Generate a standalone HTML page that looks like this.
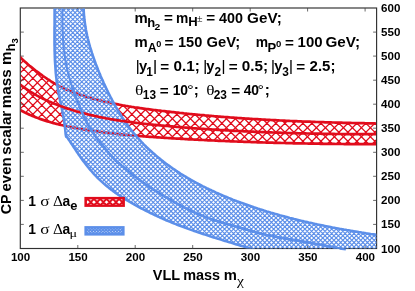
<!DOCTYPE html>
<html><head><meta charset="utf-8"><title>plot</title>
<style>
html,body{margin:0;padding:0;background:#fff;}
svg{display:block;will-change:transform;}
text{font-family:"Liberation Sans",sans-serif;font-weight:bold;fill:#000;}
.g{font-family:"Liberation Serif",serif;font-weight:normal;}
.n{font-weight:normal;}
</style></head><body>
<svg width="415" height="291" viewBox="0 0 415 291">
<defs>
<clipPath id="cr"><path d="M19.0,56.2 L20.5,57.6 L22.0,59.0 L23.5,60.4 L25.0,61.8 L26.5,63.1 L28.0,64.4 L29.5,65.7 L31.0,66.9 L32.5,68.1 L34.0,69.3 L35.5,70.5 L37.0,71.6 L38.5,72.7 L40.0,73.8 L41.5,74.9 L43.0,76.0 L44.5,77.0 L46.0,78.0 L47.5,79.1 L49.0,80.0 L50.5,81.0 L52.0,82.0 L53.5,82.9 L55.0,83.7 L56.5,84.6 L58.0,85.4 L59.5,86.2 L61.0,87.0 L62.5,87.7 L64.0,88.4 L65.5,89.1 L67.0,89.7 L68.5,90.3 L70.0,91.0 L71.5,91.6 L73.0,92.1 L74.5,92.7 L76.0,93.2 L77.5,93.8 L79.0,94.3 L80.5,94.8 L82.0,95.3 L83.5,95.7 L85.0,96.2 L86.5,96.7 L88.0,97.1 L89.5,97.6 L91.0,98.0 L92.5,98.4 L94.0,98.9 L95.5,99.3 L97.0,99.7 L98.5,100.1 L100.0,100.4 L101.5,100.8 L103.0,101.2 L104.5,101.5 L106.0,101.9 L107.5,102.2 L109.0,102.6 L110.5,102.9 L112.0,103.2 L113.5,103.5 L115.0,103.8 L116.5,104.1 L118.0,104.4 L119.5,104.7 L121.0,105.0 L122.5,105.3 L124.0,105.5 L125.5,105.8 L127.0,106.0 L128.5,106.3 L130.0,106.5 L131.5,106.8 L133.0,107.0 L134.5,107.3 L136.0,107.5 L137.5,107.7 L139.0,107.9 L140.5,108.2 L142.0,108.4 L143.5,108.6 L145.0,108.8 L146.5,109.0 L148.0,109.2 L149.5,109.4 L151.0,109.6 L152.5,109.8 L154.0,110.0 L155.5,110.1 L157.0,110.3 L158.5,110.5 L160.0,110.7 L161.5,110.9 L163.0,111.0 L164.5,111.2 L166.0,111.4 L167.5,111.6 L169.0,111.7 L170.5,111.9 L172.0,112.1 L173.5,112.2 L175.0,112.4 L176.5,112.6 L178.0,112.7 L179.5,112.9 L181.0,113.0 L182.5,113.2 L184.0,113.4 L185.5,113.5 L187.0,113.7 L188.5,113.8 L190.0,114.0 L191.5,114.1 L193.0,114.3 L194.5,114.4 L196.0,114.5 L197.5,114.7 L199.0,114.8 L200.5,115.0 L202.0,115.1 L203.5,115.2 L205.0,115.4 L206.5,115.5 L208.0,115.6 L209.5,115.8 L211.0,115.9 L212.5,116.0 L214.0,116.2 L215.5,116.3 L217.0,116.4 L218.5,116.5 L220.0,116.6 L221.5,116.8 L223.0,116.9 L224.5,117.0 L226.0,117.1 L227.5,117.2 L229.0,117.3 L230.5,117.5 L232.0,117.6 L233.5,117.7 L235.0,117.8 L236.5,117.9 L238.0,118.0 L239.5,118.1 L241.0,118.2 L242.5,118.3 L244.0,118.4 L245.5,118.5 L247.0,118.6 L248.5,118.7 L250.0,118.8 L251.5,118.9 L253.0,119.0 L254.5,119.1 L256.0,119.2 L257.5,119.2 L259.0,119.3 L260.5,119.4 L262.0,119.5 L263.5,119.6 L265.0,119.7 L266.5,119.8 L268.0,119.8 L269.5,119.9 L271.0,120.0 L272.5,120.1 L274.0,120.2 L275.5,120.2 L277.0,120.3 L278.5,120.4 L280.0,120.5 L281.5,120.5 L283.0,120.6 L284.5,120.7 L286.0,120.8 L287.5,120.8 L289.0,120.9 L290.5,121.0 L292.0,121.0 L293.5,121.1 L295.0,121.2 L296.5,121.2 L298.0,121.3 L299.5,121.3 L301.0,121.4 L302.5,121.5 L304.0,121.5 L305.5,121.6 L307.0,121.6 L308.5,121.7 L310.0,121.7 L311.5,121.8 L313.0,121.9 L314.5,121.9 L316.0,122.0 L317.5,122.0 L319.0,122.1 L320.5,122.1 L322.0,122.2 L323.5,122.2 L325.0,122.3 L326.5,122.3 L328.0,122.3 L329.5,122.4 L331.0,122.4 L332.5,122.5 L334.0,122.5 L335.5,122.6 L337.0,122.6 L338.5,122.6 L340.0,122.7 L341.5,122.7 L343.0,122.8 L344.5,122.8 L346.0,122.8 L347.5,122.9 L349.0,122.9 L350.5,122.9 L352.0,123.0 L353.5,123.0 L355.0,123.1 L356.5,123.1 L358.0,123.1 L359.5,123.1 L361.0,123.2 L362.5,123.2 L364.0,123.2 L365.5,123.3 L367.0,123.3 L368.5,123.3 L370.0,123.4 L371.5,123.4 L373.0,123.4 L374.5,123.4 L376.0,123.5 L376.0,144.2 L374.5,144.2 L373.0,144.2 L371.5,144.2 L370.0,144.2 L368.5,144.2 L367.0,144.2 L365.5,144.2 L364.0,144.2 L362.5,144.2 L361.0,144.2 L359.5,144.2 L358.0,144.2 L356.5,144.1 L355.0,144.1 L353.5,144.1 L352.0,144.1 L350.5,144.1 L349.0,144.1 L347.5,144.1 L346.0,144.1 L344.5,144.1 L343.0,144.0 L341.5,144.0 L340.0,144.0 L338.5,144.0 L337.0,144.0 L335.5,144.0 L334.0,143.9 L332.5,143.9 L331.0,143.9 L329.5,143.9 L328.0,143.9 L326.5,143.8 L325.0,143.8 L323.5,143.8 L322.0,143.8 L320.5,143.8 L319.0,143.7 L317.5,143.7 L316.0,143.7 L314.5,143.7 L313.0,143.6 L311.5,143.6 L310.0,143.6 L308.5,143.6 L307.0,143.5 L305.5,143.5 L304.0,143.5 L302.5,143.4 L301.0,143.4 L299.5,143.4 L298.0,143.4 L296.5,143.3 L295.0,143.3 L293.5,143.3 L292.0,143.2 L290.5,143.2 L289.0,143.2 L287.5,143.1 L286.0,143.1 L284.5,143.0 L283.0,143.0 L281.5,143.0 L280.0,142.9 L278.5,142.9 L277.0,142.9 L275.5,142.8 L274.0,142.8 L272.5,142.7 L271.0,142.7 L269.5,142.6 L268.0,142.6 L266.5,142.6 L265.0,142.5 L263.5,142.5 L262.0,142.4 L260.5,142.4 L259.0,142.3 L257.5,142.3 L256.0,142.2 L254.5,142.2 L253.0,142.1 L251.5,142.1 L250.0,142.0 L248.5,142.0 L247.0,141.9 L245.5,141.9 L244.0,141.8 L242.5,141.7 L241.0,141.7 L239.5,141.6 L238.0,141.6 L236.5,141.5 L235.0,141.5 L233.5,141.4 L232.0,141.3 L230.5,141.3 L229.0,141.2 L227.5,141.1 L226.0,141.1 L224.5,141.0 L223.0,141.0 L221.5,140.9 L220.0,140.8 L218.5,140.8 L217.0,140.7 L215.5,140.6 L214.0,140.5 L212.5,140.5 L211.0,140.4 L209.5,140.3 L208.0,140.3 L206.5,140.2 L205.0,140.1 L203.5,140.0 L202.0,140.0 L200.5,139.9 L199.0,139.8 L197.5,139.7 L196.0,139.7 L194.5,139.6 L193.0,139.5 L191.5,139.4 L190.0,139.3 L188.5,139.3 L187.0,139.2 L185.5,139.1 L184.0,139.0 L182.5,138.9 L181.0,138.8 L179.5,138.7 L178.0,138.7 L176.5,138.6 L175.0,138.5 L173.5,138.4 L172.0,138.3 L170.5,138.2 L169.0,138.1 L167.5,138.0 L166.0,137.9 L164.5,137.8 L163.0,137.7 L161.5,137.6 L160.0,137.5 L158.5,137.4 L157.0,137.3 L155.5,137.2 L154.0,137.1 L152.5,137.0 L151.0,136.9 L149.5,136.8 L148.0,136.7 L146.5,136.6 L145.0,136.5 L143.5,136.3 L142.0,136.2 L140.5,136.1 L139.0,136.0 L137.5,135.8 L136.0,135.7 L134.5,135.6 L133.0,135.5 L131.5,135.3 L130.0,135.2 L128.5,135.0 L127.0,134.9 L125.5,134.8 L124.0,134.6 L122.5,134.5 L121.0,134.3 L119.5,134.2 L118.0,134.0 L116.5,133.8 L115.0,133.7 L113.5,133.5 L112.0,133.3 L110.5,133.1 L109.0,133.0 L107.5,132.8 L106.0,132.6 L104.5,132.4 L103.0,132.2 L101.5,132.0 L100.0,131.8 L98.5,131.6 L97.0,131.4 L95.5,131.2 L94.0,131.0 L92.5,130.8 L91.0,130.5 L89.5,130.3 L88.0,130.1 L86.5,129.8 L85.0,129.6 L83.5,129.3 L82.0,129.1 L80.5,128.8 L79.0,128.6 L77.5,128.3 L76.0,128.0 L74.5,127.7 L73.0,127.5 L71.5,127.2 L70.0,126.9 L68.5,126.6 L67.0,126.3 L65.5,126.0 L64.0,125.6 L62.5,125.3 L61.0,125.0 L59.5,124.6 L58.0,124.2 L56.5,123.9 L55.0,123.5 L53.5,123.1 L52.0,122.7 L50.5,122.3 L49.0,121.8 L47.5,121.4 L46.0,120.9 L44.5,120.4 L43.0,119.9 L41.5,119.4 L40.0,118.9 L38.5,118.3 L37.0,117.8 L35.5,117.2 L34.0,116.6 L32.5,116.0 L31.0,115.3 L29.5,114.7 L28.0,114.0 L26.5,113.3 L25.0,112.6 L23.5,111.8 L22.0,111.0 L20.5,110.2 L19.0,109.4Z"/></clipPath>
<clipPath id="cb"><path d="M54.6,5.9 L54.6,7.4 L54.6,9.0 L54.6,10.5 L54.6,12.0 L54.6,13.5 L54.6,15.0 L54.6,16.5 L54.6,18.0 L54.6,19.5 L54.6,21.0 L54.6,22.5 L54.6,24.0 L54.6,25.5 L54.5,27.0 L54.5,28.5 L54.5,30.0 L54.5,31.5 L54.5,33.0 L54.5,34.5 L54.5,36.0 L54.5,37.5 L54.5,39.0 L54.5,40.4 L54.5,41.9 L54.5,43.4 L54.5,44.9 L54.6,46.4 L54.6,47.9 L54.6,49.4 L54.6,50.9 L54.7,52.4 L54.7,53.9 L54.8,55.3 L54.8,56.8 L54.9,58.3 L54.9,59.8 L55.0,61.3 L55.1,62.8 L55.2,64.3 L55.3,65.7 L55.4,67.2 L55.5,68.7 L55.6,70.2 L55.7,71.7 L55.8,73.2 L56.0,74.6 L56.1,76.1 L56.3,77.6 L56.5,79.1 L56.6,80.6 L56.8,82.0 L57.0,83.5 L57.2,85.0 L57.5,86.5 L57.7,88.0 L57.9,89.4 L58.2,90.9 L58.5,92.4 L58.7,93.9 L59.0,95.3 L59.3,96.8 L59.6,98.3 L59.9,99.8 L60.2,101.2 L60.5,102.7 L60.8,104.2 L61.2,105.7 L61.5,107.1 L61.8,108.6 L62.1,110.1 L62.4,111.6 L62.7,113.0 L62.9,114.5 L63.2,116.0 L63.5,117.4 L63.7,118.9 L64.0,120.4 L64.2,121.9 L64.4,123.3 L64.6,124.8 L64.8,126.3 L65.0,127.7 L65.2,129.2 L65.3,130.7 L65.5,132.1 L65.6,133.6 L65.8,135.1 L66.1,136.6 L67.3,137.5 L68.2,138.7 L69.0,140.0 L69.9,141.2 L70.7,142.5 L71.5,143.7 L72.4,145.0 L73.2,146.2 L74.0,147.5 L74.9,148.8 L75.7,150.0 L76.5,151.2 L77.3,152.5 L78.2,153.7 L79.0,155.0 L79.9,156.2 L80.7,157.4 L81.6,158.6 L82.5,159.9 L83.4,161.1 L84.3,162.3 L85.2,163.5 L86.1,164.6 L87.0,165.8 L87.9,167.0 L88.9,168.1 L89.9,169.3 L90.8,170.4 L91.8,171.5 L92.8,172.7 L93.8,173.8 L94.8,174.8 L95.8,175.9 L96.8,177.0 L97.9,178.1 L98.9,179.1 L100.0,180.1 L101.1,181.1 L102.2,182.1 L103.3,183.1 L104.4,184.1 L105.5,185.1 L106.6,186.0 L107.8,186.9 L108.9,187.9 L110.1,188.8 L111.2,189.7 L112.4,190.5 L113.6,191.4 L114.8,192.3 L116.0,193.1 L117.2,194.0 L118.4,194.8 L119.7,195.6 L120.9,196.4 L122.1,197.2 L123.4,198.0 L124.7,198.8 L125.9,199.6 L127.2,200.4 L128.5,201.1 L129.8,201.9 L131.1,202.6 L132.4,203.4 L133.7,204.1 L135.0,204.9 L136.3,205.6 L137.6,206.3 L138.9,207.0 L140.3,207.8 L141.6,208.5 L142.9,209.2 L144.3,209.9 L145.6,210.6 L147.0,211.2 L148.3,211.9 L149.7,212.6 L151.0,213.3 L152.4,213.9 L153.8,214.6 L155.1,215.2 L156.5,215.9 L157.9,216.5 L159.3,217.1 L160.6,217.8 L162.0,218.4 L163.4,219.0 L164.8,219.6 L166.1,220.2 L167.5,220.8 L168.9,221.3 L170.3,221.9 L171.7,222.5 L173.0,223.0 L174.4,223.6 L175.8,224.1 L177.2,224.7 L178.6,225.2 L180.0,225.8 L181.4,226.3 L182.8,226.8 L184.2,227.3 L185.5,227.9 L186.9,228.4 L188.3,228.9 L189.7,229.4 L191.1,229.9 L192.5,230.4 L193.9,230.9 L195.3,231.3 L196.7,231.8 L198.1,232.3 L199.5,232.8 L201.0,233.2 L202.4,233.7 L203.8,234.2 L205.2,234.6 L206.6,235.1 L208.0,235.6 L209.4,236.0 L210.8,236.5 L212.2,236.9 L213.7,237.4 L215.1,237.8 L216.5,238.3 L217.9,238.7 L219.3,239.1 L220.8,239.6 L222.2,240.0 L223.6,240.5 L225.0,240.9 L226.5,241.3 L227.9,241.8 L229.3,242.2 L230.7,242.6 L232.2,243.1 L233.6,243.5 L235.0,243.9 L236.5,244.4 L237.9,244.8 L239.3,245.2 L240.8,245.7 L242.2,246.1 L243.7,246.5 L245.1,247.0 L246.5,247.4 L248.0,247.8 L249.4,248.3 L250.9,248.7 L252.3,249.2 L253.8,249.6 L255.2,250.1 L256.7,250.5 L378.0,250.0 L378.0,235.1 L376.5,234.9 L375.1,234.6 L373.6,234.4 L372.1,234.2 L370.6,234.0 L369.1,233.7 L367.6,233.5 L366.1,233.3 L364.6,233.0 L363.2,232.8 L361.7,232.6 L360.2,232.3 L358.7,232.1 L357.2,231.8 L355.7,231.6 L354.3,231.4 L352.8,231.1 L351.3,230.9 L349.8,230.6 L348.3,230.3 L346.8,230.1 L345.4,229.8 L343.9,229.6 L342.4,229.3 L340.9,229.0 L339.5,228.8 L338.0,228.5 L336.5,228.2 L335.0,227.9 L333.6,227.7 L332.1,227.4 L330.6,227.1 L329.1,226.8 L327.7,226.5 L326.2,226.2 L324.7,225.9 L323.3,225.6 L321.8,225.3 L320.3,225.0 L318.9,224.7 L317.4,224.4 L315.9,224.1 L314.5,223.8 L313.0,223.4 L311.6,223.1 L310.1,222.8 L308.6,222.5 L307.2,222.1 L305.7,221.8 L304.3,221.5 L302.8,221.1 L301.3,220.8 L299.9,220.4 L298.4,220.1 L297.0,219.7 L295.5,219.3 L294.1,219.0 L292.6,218.6 L291.2,218.2 L289.7,217.9 L288.3,217.5 L286.8,217.1 L285.4,216.7 L284.0,216.3 L282.5,215.9 L281.1,215.6 L279.6,215.2 L278.2,214.7 L276.8,214.3 L275.3,213.9 L273.9,213.5 L272.4,213.1 L271.0,212.7 L269.6,212.2 L268.1,211.8 L266.7,211.4 L265.3,210.9 L263.9,210.5 L262.4,210.0 L261.0,209.6 L259.6,209.1 L258.2,208.7 L256.7,208.2 L255.3,207.7 L253.9,207.3 L252.5,206.8 L251.0,206.3 L249.6,205.8 L248.2,205.3 L246.8,204.8 L245.4,204.3 L244.0,203.8 L242.6,203.3 L241.2,202.8 L239.7,202.2 L238.3,201.7 L236.9,201.2 L235.5,200.6 L234.1,200.1 L232.7,199.6 L231.3,199.0 L229.9,198.4 L228.5,197.9 L227.1,197.3 L225.8,196.7 L224.4,196.2 L223.0,195.6 L221.6,195.0 L220.2,194.4 L218.8,193.8 L217.5,193.2 L216.1,192.6 L214.7,191.9 L213.4,191.3 L212.0,190.7 L210.6,190.0 L209.3,189.4 L207.9,188.7 L206.6,188.1 L205.2,187.4 L203.9,186.8 L202.5,186.1 L201.2,185.4 L199.9,184.7 L198.5,184.0 L197.2,183.3 L195.9,182.6 L194.6,181.9 L193.2,181.1 L191.9,180.4 L190.6,179.7 L189.3,178.9 L188.0,178.2 L186.7,177.4 L185.5,176.6 L184.2,175.9 L182.9,175.1 L181.6,174.3 L180.3,173.5 L179.1,172.7 L177.8,171.9 L176.6,171.0 L175.3,170.2 L174.1,169.4 L172.8,168.5 L171.6,167.7 L170.4,166.8 L169.2,165.9 L168.0,165.0 L166.7,164.2 L165.5,163.3 L164.3,162.4 L163.2,161.4 L162.0,160.5 L160.8,159.6 L159.6,158.6 L158.5,157.7 L157.3,156.7 L156.1,155.8 L155.0,154.8 L153.9,153.8 L152.7,152.8 L151.6,151.8 L150.5,150.8 L149.4,149.8 L148.3,148.7 L147.2,147.7 L146.1,146.7 L145.1,145.6 L144.0,144.6 L143.0,143.5 L141.9,142.4 L140.9,141.3 L139.9,140.2 L138.9,139.1 L137.9,138.0 L136.9,136.9 L136.0,135.8 L135.0,134.6 L134.0,133.5 L133.1,132.4 L132.2,131.2 L131.2,130.0 L130.3,128.9 L129.4,127.7 L128.5,126.5 L127.7,125.3 L126.8,124.1 L125.9,122.9 L125.1,121.7 L124.3,120.5 L123.4,119.2 L122.6,118.0 L121.8,116.7 L121.0,115.5 L120.2,114.2 L119.4,113.0 L118.7,111.7 L117.9,110.4 L117.1,109.2 L116.4,107.9 L115.6,106.6 L114.9,105.3 L114.2,104.0 L113.5,102.7 L112.8,101.3 L112.1,100.0 L111.4,98.7 L110.7,97.4 L110.0,96.0 L109.3,94.7 L108.6,93.4 L108.0,92.0 L107.3,90.7 L106.7,89.3 L106.0,87.9 L105.4,86.6 L104.7,85.2 L104.1,83.8 L103.5,82.5 L102.9,81.1 L102.2,79.7 L101.6,78.3 L101.0,76.9 L100.4,75.5 L99.9,74.1 L99.3,72.8 L98.7,71.4 L98.1,69.9 L97.6,68.5 L97.0,67.1 L96.5,65.7 L95.9,64.3 L95.4,62.9 L94.9,61.5 L94.4,60.1 L93.8,58.6 L93.4,57.2 L92.9,55.8 L92.4,54.3 L91.9,52.9 L91.5,51.5 L91.0,50.0 L90.6,48.6 L90.1,47.2 L89.7,45.7 L89.3,44.3 L88.9,42.8 L88.5,41.4 L88.2,39.9 L87.8,38.5 L87.5,37.0 L87.1,35.6 L86.8,34.1 L86.5,32.6 L86.2,31.2 L85.9,29.7 L85.7,28.3 L85.4,26.8 L85.2,25.3 L85.0,23.9 L84.8,22.4 L84.6,20.9 L84.4,19.5 L84.3,18.0 L84.1,16.5 L84.0,15.1 L83.9,13.6 L83.8,12.1 L83.7,10.6 L83.7,9.2 L83.7,7.7 L83.7,6.2Z"/></clipPath>
<clipPath id="clr"><rect x="85.65" y="198.15" width="38.0" height="7.5"/></clipPath>
<clipPath id="clb"><rect x="85.65" y="227.35" width="37.7" height="7.0"/></clipPath>
<clipPath id="cp"><rect x="20.7" y="8.5" width="355.7" height="240.0"/></clipPath>
</defs>
<rect width="415" height="291" fill="#fff"/>
<g clip-path="url(#cp)">
<g clip-path="url(#cr)"><path d="M18.00,-323.65L379.00,37.35M18.00,-314.65L379.00,46.35M18.00,-305.65L379.00,55.35M18.00,-296.65L379.00,64.35M18.00,-287.65L379.00,73.35M18.00,-278.65L379.00,82.35M18.00,-269.65L379.00,91.35M18.00,-260.65L379.00,100.35M18.00,-251.65L379.00,109.35M18.00,-242.65L379.00,118.35M18.00,-233.65L379.00,127.35M18.00,-224.65L379.00,136.35M18.00,-215.65L379.00,145.35M18.00,-206.65L379.00,154.35M18.00,-197.65L379.00,163.35M18.00,-188.65L379.00,172.35M18.00,-179.65L379.00,181.35M18.00,-170.65L379.00,190.35M18.00,-161.65L379.00,199.35M18.00,-152.65L379.00,208.35M18.00,-143.65L379.00,217.35M18.00,-134.65L379.00,226.35M18.00,-125.65L379.00,235.35M18.00,-116.65L379.00,244.35M18.00,-107.65L379.00,253.35M18.00,-98.65L379.00,262.35M18.00,-89.65L379.00,271.35M18.00,-80.65L379.00,280.35M18.00,-71.65L379.00,289.35M18.00,-62.65L379.00,298.35M18.00,-53.65L379.00,307.35M18.00,-44.65L379.00,316.35M18.00,-35.65L379.00,325.35M18.00,-26.65L379.00,334.35M18.00,-17.65L379.00,343.35M18.00,-8.65L379.00,352.35M18.00,0.35L379.00,361.35M18.00,9.35L379.00,370.35M18.00,18.35L379.00,379.35M18.00,27.35L379.00,388.35M18.00,36.35L379.00,397.35M18.00,45.35L379.00,406.35M18.00,54.35L379.00,415.35M18.00,63.35L379.00,424.35M18.00,72.35L379.00,433.35M18.00,81.35L379.00,442.35M18.00,90.35L379.00,451.35M18.00,99.35L379.00,460.35M18.00,108.35L379.00,469.35M18.00,117.35L379.00,478.35M18.00,126.35L379.00,487.35M18.00,135.35L379.00,496.35M18.00,144.35L379.00,505.35M18.00,153.35L379.00,514.35M18.00,162.35L379.00,523.35M18.00,39.15L379.00,-321.85M18.00,48.15L379.00,-312.85M18.00,57.15L379.00,-303.85M18.00,66.15L379.00,-294.85M18.00,75.15L379.00,-285.85M18.00,84.15L379.00,-276.85M18.00,93.15L379.00,-267.85M18.00,102.15L379.00,-258.85M18.00,111.15L379.00,-249.85M18.00,120.15L379.00,-240.85M18.00,129.15L379.00,-231.85M18.00,138.15L379.00,-222.85M18.00,147.15L379.00,-213.85M18.00,156.15L379.00,-204.85M18.00,165.15L379.00,-195.85M18.00,174.15L379.00,-186.85M18.00,183.15L379.00,-177.85M18.00,192.15L379.00,-168.85M18.00,201.15L379.00,-159.85M18.00,210.15L379.00,-150.85M18.00,219.15L379.00,-141.85M18.00,228.15L379.00,-132.85M18.00,237.15L379.00,-123.85M18.00,246.15L379.00,-114.85M18.00,255.15L379.00,-105.85M18.00,264.15L379.00,-96.85M18.00,273.15L379.00,-87.85M18.00,282.15L379.00,-78.85M18.00,291.15L379.00,-69.85M18.00,300.15L379.00,-60.85M18.00,309.15L379.00,-51.85M18.00,318.15L379.00,-42.85M18.00,327.15L379.00,-33.85M18.00,336.15L379.00,-24.85M18.00,345.15L379.00,-15.85M18.00,354.15L379.00,-6.85M18.00,363.15L379.00,2.15M18.00,372.15L379.00,11.15M18.00,381.15L379.00,20.15M18.00,390.15L379.00,29.15M18.00,399.15L379.00,38.15M18.00,408.15L379.00,47.15M18.00,417.15L379.00,56.15M18.00,426.15L379.00,65.15M18.00,435.15L379.00,74.15M18.00,444.15L379.00,83.15M18.00,453.15L379.00,92.15M18.00,462.15L379.00,101.15M18.00,471.15L379.00,110.15M18.00,480.15L379.00,119.15M18.00,489.15L379.00,128.15M18.00,498.15L379.00,137.15M18.00,507.15L379.00,146.15M18.00,516.15L379.00,155.15M18.00,525.15L379.00,164.15" stroke="#e10c1c" stroke-width="1.3" fill="none"/></g>
<path d="M54.6,5.9 L54.6,7.4 L54.6,9.0 L54.6,10.5 L54.6,12.0 L54.6,13.5 L54.6,15.0 L54.6,16.5 L54.6,18.0 L54.6,19.5 L54.6,21.0 L54.6,22.5 L54.6,24.0 L54.6,25.5 L54.5,27.0 L54.5,28.5 L54.5,30.0 L54.5,31.5 L54.5,33.0 L54.5,34.5 L54.5,36.0 L54.5,37.5 L54.5,39.0 L54.5,40.4 L54.5,41.9 L54.5,43.4 L54.5,44.9 L54.6,46.4 L54.6,47.9 L54.6,49.4 L54.6,50.9 L54.7,52.4 L54.7,53.9 L54.8,55.3 L54.8,56.8 L54.9,58.3 L54.9,59.8 L55.0,61.3 L55.1,62.8 L55.2,64.3 L55.3,65.7 L55.4,67.2 L55.5,68.7 L55.6,70.2 L55.7,71.7 L55.8,73.2 L56.0,74.6 L56.1,76.1 L56.3,77.6 L56.5,79.1 L56.6,80.6 L56.8,82.0 L57.0,83.5 L57.2,85.0 L57.5,86.5 L57.7,88.0 L57.9,89.4 L58.2,90.9 L58.5,92.4 L58.7,93.9 L59.0,95.3 L59.3,96.8 L59.6,98.3 L59.9,99.8 L60.2,101.2 L60.5,102.7 L60.8,104.2 L61.2,105.7 L61.5,107.1 L61.8,108.6 L62.1,110.1 L62.4,111.6 L62.7,113.0 L62.9,114.5 L63.2,116.0 L63.5,117.4 L63.7,118.9 L64.0,120.4 L64.2,121.9 L64.4,123.3 L64.6,124.8 L64.8,126.3 L65.0,127.7 L65.2,129.2 L65.3,130.7 L65.5,132.1 L65.6,133.6 L65.8,135.1 L66.1,136.6 L67.3,137.5 L68.2,138.7 L69.0,140.0 L69.9,141.2 L70.7,142.5 L71.5,143.7 L72.4,145.0 L73.2,146.2 L74.0,147.5 L74.9,148.8 L75.7,150.0 L76.5,151.2 L77.3,152.5 L78.2,153.7 L79.0,155.0 L79.9,156.2 L80.7,157.4 L81.6,158.6 L82.5,159.9 L83.4,161.1 L84.3,162.3 L85.2,163.5 L86.1,164.6 L87.0,165.8 L87.9,167.0 L88.9,168.1 L89.9,169.3 L90.8,170.4 L91.8,171.5 L92.8,172.7 L93.8,173.8 L94.8,174.8 L95.8,175.9 L96.8,177.0 L97.9,178.1 L98.9,179.1 L100.0,180.1 L101.1,181.1 L102.2,182.1 L103.3,183.1 L104.4,184.1 L105.5,185.1 L106.6,186.0 L107.8,186.9 L108.9,187.9 L110.1,188.8 L111.2,189.7 L112.4,190.5 L113.6,191.4 L114.8,192.3 L116.0,193.1 L117.2,194.0 L118.4,194.8 L119.7,195.6 L120.9,196.4 L122.1,197.2 L123.4,198.0 L124.7,198.8 L125.9,199.6 L127.2,200.4 L128.5,201.1 L129.8,201.9 L131.1,202.6 L132.4,203.4 L133.7,204.1 L135.0,204.9 L136.3,205.6 L137.6,206.3 L138.9,207.0 L140.3,207.8 L141.6,208.5 L142.9,209.2 L144.3,209.9 L145.6,210.6 L147.0,211.2 L148.3,211.9 L149.7,212.6 L151.0,213.3 L152.4,213.9 L153.8,214.6 L155.1,215.2 L156.5,215.9 L157.9,216.5 L159.3,217.1 L160.6,217.8 L162.0,218.4 L163.4,219.0 L164.8,219.6 L166.1,220.2 L167.5,220.8 L168.9,221.3 L170.3,221.9 L171.7,222.5 L173.0,223.0 L174.4,223.6 L175.8,224.1 L177.2,224.7 L178.6,225.2 L180.0,225.8 L181.4,226.3 L182.8,226.8 L184.2,227.3 L185.5,227.9 L186.9,228.4 L188.3,228.9 L189.7,229.4 L191.1,229.9 L192.5,230.4 L193.9,230.9 L195.3,231.3 L196.7,231.8 L198.1,232.3 L199.5,232.8 L201.0,233.2 L202.4,233.7 L203.8,234.2 L205.2,234.6 L206.6,235.1 L208.0,235.6 L209.4,236.0 L210.8,236.5 L212.2,236.9 L213.7,237.4 L215.1,237.8 L216.5,238.3 L217.9,238.7 L219.3,239.1 L220.8,239.6 L222.2,240.0 L223.6,240.5 L225.0,240.9 L226.5,241.3 L227.9,241.8 L229.3,242.2 L230.7,242.6 L232.2,243.1 L233.6,243.5 L235.0,243.9 L236.5,244.4 L237.9,244.8 L239.3,245.2 L240.8,245.7 L242.2,246.1 L243.7,246.5 L245.1,247.0 L246.5,247.4 L248.0,247.8 L249.4,248.3 L250.9,248.7 L252.3,249.2 L253.8,249.6 L255.2,250.1 L256.7,250.5 L378.0,250.0 L378.0,235.1 L376.5,234.9 L375.1,234.6 L373.6,234.4 L372.1,234.2 L370.6,234.0 L369.1,233.7 L367.6,233.5 L366.1,233.3 L364.6,233.0 L363.2,232.8 L361.7,232.6 L360.2,232.3 L358.7,232.1 L357.2,231.8 L355.7,231.6 L354.3,231.4 L352.8,231.1 L351.3,230.9 L349.8,230.6 L348.3,230.3 L346.8,230.1 L345.4,229.8 L343.9,229.6 L342.4,229.3 L340.9,229.0 L339.5,228.8 L338.0,228.5 L336.5,228.2 L335.0,227.9 L333.6,227.7 L332.1,227.4 L330.6,227.1 L329.1,226.8 L327.7,226.5 L326.2,226.2 L324.7,225.9 L323.3,225.6 L321.8,225.3 L320.3,225.0 L318.9,224.7 L317.4,224.4 L315.9,224.1 L314.5,223.8 L313.0,223.4 L311.6,223.1 L310.1,222.8 L308.6,222.5 L307.2,222.1 L305.7,221.8 L304.3,221.5 L302.8,221.1 L301.3,220.8 L299.9,220.4 L298.4,220.1 L297.0,219.7 L295.5,219.3 L294.1,219.0 L292.6,218.6 L291.2,218.2 L289.7,217.9 L288.3,217.5 L286.8,217.1 L285.4,216.7 L284.0,216.3 L282.5,215.9 L281.1,215.6 L279.6,215.2 L278.2,214.7 L276.8,214.3 L275.3,213.9 L273.9,213.5 L272.4,213.1 L271.0,212.7 L269.6,212.2 L268.1,211.8 L266.7,211.4 L265.3,210.9 L263.9,210.5 L262.4,210.0 L261.0,209.6 L259.6,209.1 L258.2,208.7 L256.7,208.2 L255.3,207.7 L253.9,207.3 L252.5,206.8 L251.0,206.3 L249.6,205.8 L248.2,205.3 L246.8,204.8 L245.4,204.3 L244.0,203.8 L242.6,203.3 L241.2,202.8 L239.7,202.2 L238.3,201.7 L236.9,201.2 L235.5,200.6 L234.1,200.1 L232.7,199.6 L231.3,199.0 L229.9,198.4 L228.5,197.9 L227.1,197.3 L225.8,196.7 L224.4,196.2 L223.0,195.6 L221.6,195.0 L220.2,194.4 L218.8,193.8 L217.5,193.2 L216.1,192.6 L214.7,191.9 L213.4,191.3 L212.0,190.7 L210.6,190.0 L209.3,189.4 L207.9,188.7 L206.6,188.1 L205.2,187.4 L203.9,186.8 L202.5,186.1 L201.2,185.4 L199.9,184.7 L198.5,184.0 L197.2,183.3 L195.9,182.6 L194.6,181.9 L193.2,181.1 L191.9,180.4 L190.6,179.7 L189.3,178.9 L188.0,178.2 L186.7,177.4 L185.5,176.6 L184.2,175.9 L182.9,175.1 L181.6,174.3 L180.3,173.5 L179.1,172.7 L177.8,171.9 L176.6,171.0 L175.3,170.2 L174.1,169.4 L172.8,168.5 L171.6,167.7 L170.4,166.8 L169.2,165.9 L168.0,165.0 L166.7,164.2 L165.5,163.3 L164.3,162.4 L163.2,161.4 L162.0,160.5 L160.8,159.6 L159.6,158.6 L158.5,157.7 L157.3,156.7 L156.1,155.8 L155.0,154.8 L153.9,153.8 L152.7,152.8 L151.6,151.8 L150.5,150.8 L149.4,149.8 L148.3,148.7 L147.2,147.7 L146.1,146.7 L145.1,145.6 L144.0,144.6 L143.0,143.5 L141.9,142.4 L140.9,141.3 L139.9,140.2 L138.9,139.1 L137.9,138.0 L136.9,136.9 L136.0,135.8 L135.0,134.6 L134.0,133.5 L133.1,132.4 L132.2,131.2 L131.2,130.0 L130.3,128.9 L129.4,127.7 L128.5,126.5 L127.7,125.3 L126.8,124.1 L125.9,122.9 L125.1,121.7 L124.3,120.5 L123.4,119.2 L122.6,118.0 L121.8,116.7 L121.0,115.5 L120.2,114.2 L119.4,113.0 L118.7,111.7 L117.9,110.4 L117.1,109.2 L116.4,107.9 L115.6,106.6 L114.9,105.3 L114.2,104.0 L113.5,102.7 L112.8,101.3 L112.1,100.0 L111.4,98.7 L110.7,97.4 L110.0,96.0 L109.3,94.7 L108.6,93.4 L108.0,92.0 L107.3,90.7 L106.7,89.3 L106.0,87.9 L105.4,86.6 L104.7,85.2 L104.1,83.8 L103.5,82.5 L102.9,81.1 L102.2,79.7 L101.6,78.3 L101.0,76.9 L100.4,75.5 L99.9,74.1 L99.3,72.8 L98.7,71.4 L98.1,69.9 L97.6,68.5 L97.0,67.1 L96.5,65.7 L95.9,64.3 L95.4,62.9 L94.9,61.5 L94.4,60.1 L93.8,58.6 L93.4,57.2 L92.9,55.8 L92.4,54.3 L91.9,52.9 L91.5,51.5 L91.0,50.0 L90.6,48.6 L90.1,47.2 L89.7,45.7 L89.3,44.3 L88.9,42.8 L88.5,41.4 L88.2,39.9 L87.8,38.5 L87.5,37.0 L87.1,35.6 L86.8,34.1 L86.5,32.6 L86.2,31.2 L85.9,29.7 L85.7,28.3 L85.4,26.8 L85.2,25.3 L85.0,23.9 L84.8,22.4 L84.6,20.9 L84.4,19.5 L84.3,18.0 L84.1,16.5 L84.0,15.1 L83.9,13.6 L83.8,12.1 L83.7,10.6 L83.7,9.2 L83.7,7.7 L83.7,6.2Z" fill="#fff"/>
</g>
<!-- axes -->
<g stroke="#303030" stroke-width="1.15" fill="none">
<rect x="20.3" y="8.0" width="356.3" height="240.5"/>
</g><g stroke="#444" stroke-width="0.8" fill="none">
<path d="M77.8,248.5 v-3.5 M77.8,8.0 v3.5"/><path d="M135.2,248.5 v-3.5 M135.2,8.0 v3.5"/><path d="M192.7,248.5 v-3.5 M192.7,8.0 v3.5"/><path d="M250.2,248.5 v-3.5 M250.2,8.0 v3.5"/><path d="M307.6,248.5 v-3.5 M307.6,8.0 v3.5"/><path d="M365.1,248.5 v-3.5 M365.1,8.0 v3.5"/><path d="M20.3,224.4 h3.5 M376.6,224.4 h-3.5"/><path d="M20.3,200.4 h3.5 M376.6,200.4 h-3.5"/><path d="M20.3,176.3 h3.5 M376.6,176.3 h-3.5"/><path d="M20.3,152.3 h3.5 M376.6,152.3 h-3.5"/><path d="M20.3,128.2 h3.5 M376.6,128.2 h-3.5"/><path d="M20.3,104.2 h3.5 M376.6,104.2 h-3.5"/><path d="M20.3,80.2 h3.5 M376.6,80.2 h-3.5"/><path d="M20.3,56.1 h3.5 M376.6,56.1 h-3.5"/><path d="M20.3,32.1 h3.5 M376.6,32.1 h-3.5"/>
</g>
<g clip-path="url(#cp)">
<path d="M19.0,56.2 L20.5,57.6 L22.0,59.0 L23.5,60.4 L25.0,61.8 L26.5,63.1 L28.0,64.4 L29.5,65.7 L31.0,66.9 L32.5,68.1 L34.0,69.3 L35.5,70.5 L37.0,71.6 L38.5,72.7 L40.0,73.8 L41.5,74.9 L43.0,76.0 L44.5,77.0 L46.0,78.0 L47.5,79.1 L49.0,80.0 L50.5,81.0 L52.0,82.0 L53.5,82.9 L55.0,83.7 L56.5,84.6 L58.0,85.4 L59.5,86.2 L61.0,87.0 L62.5,87.7 L64.0,88.4 L65.5,89.1 L67.0,89.7 L68.5,90.3 L70.0,91.0 L71.5,91.6 L73.0,92.1 L74.5,92.7 L76.0,93.2 L77.5,93.8 L79.0,94.3 L80.5,94.8 L82.0,95.3 L83.5,95.7 L85.0,96.2 L86.5,96.7 L88.0,97.1 L89.5,97.6 L91.0,98.0 L92.5,98.4 L94.0,98.9 L95.5,99.3 L97.0,99.7 L98.5,100.1 L100.0,100.4 L101.5,100.8 L103.0,101.2 L104.5,101.5 L106.0,101.9 L107.5,102.2 L109.0,102.6 L110.5,102.9 L112.0,103.2 L113.5,103.5 L115.0,103.8 L116.5,104.1 L118.0,104.4 L119.5,104.7 L121.0,105.0 L122.5,105.3 L124.0,105.5 L125.5,105.8 L127.0,106.0 L128.5,106.3 L130.0,106.5 L131.5,106.8 L133.0,107.0 L134.5,107.3 L136.0,107.5 L137.5,107.7 L139.0,107.9 L140.5,108.2 L142.0,108.4 L143.5,108.6 L145.0,108.8 L146.5,109.0 L148.0,109.2 L149.5,109.4 L151.0,109.6 L152.5,109.8 L154.0,110.0 L155.5,110.1 L157.0,110.3 L158.5,110.5 L160.0,110.7 L161.5,110.9 L163.0,111.0 L164.5,111.2 L166.0,111.4 L167.5,111.6 L169.0,111.7 L170.5,111.9 L172.0,112.1 L173.5,112.2 L175.0,112.4 L176.5,112.6 L178.0,112.7 L179.5,112.9 L181.0,113.0 L182.5,113.2 L184.0,113.4 L185.5,113.5 L187.0,113.7 L188.5,113.8 L190.0,114.0 L191.5,114.1 L193.0,114.3 L194.5,114.4 L196.0,114.5 L197.5,114.7 L199.0,114.8 L200.5,115.0 L202.0,115.1 L203.5,115.2 L205.0,115.4 L206.5,115.5 L208.0,115.6 L209.5,115.8 L211.0,115.9 L212.5,116.0 L214.0,116.2 L215.5,116.3 L217.0,116.4 L218.5,116.5 L220.0,116.6 L221.5,116.8 L223.0,116.9 L224.5,117.0 L226.0,117.1 L227.5,117.2 L229.0,117.3 L230.5,117.5 L232.0,117.6 L233.5,117.7 L235.0,117.8 L236.5,117.9 L238.0,118.0 L239.5,118.1 L241.0,118.2 L242.5,118.3 L244.0,118.4 L245.5,118.5 L247.0,118.6 L248.5,118.7 L250.0,118.8 L251.5,118.9 L253.0,119.0 L254.5,119.1 L256.0,119.2 L257.5,119.2 L259.0,119.3 L260.5,119.4 L262.0,119.5 L263.5,119.6 L265.0,119.7 L266.5,119.8 L268.0,119.8 L269.5,119.9 L271.0,120.0 L272.5,120.1 L274.0,120.2 L275.5,120.2 L277.0,120.3 L278.5,120.4 L280.0,120.5 L281.5,120.5 L283.0,120.6 L284.5,120.7 L286.0,120.8 L287.5,120.8 L289.0,120.9 L290.5,121.0 L292.0,121.0 L293.5,121.1 L295.0,121.2 L296.5,121.2 L298.0,121.3 L299.5,121.3 L301.0,121.4 L302.5,121.5 L304.0,121.5 L305.5,121.6 L307.0,121.6 L308.5,121.7 L310.0,121.7 L311.5,121.8 L313.0,121.9 L314.5,121.9 L316.0,122.0 L317.5,122.0 L319.0,122.1 L320.5,122.1 L322.0,122.2 L323.5,122.2 L325.0,122.3 L326.5,122.3 L328.0,122.3 L329.5,122.4 L331.0,122.4 L332.5,122.5 L334.0,122.5 L335.5,122.6 L337.0,122.6 L338.5,122.6 L340.0,122.7 L341.5,122.7 L343.0,122.8 L344.5,122.8 L346.0,122.8 L347.5,122.9 L349.0,122.9 L350.5,122.9 L352.0,123.0 L353.5,123.0 L355.0,123.1 L356.5,123.1 L358.0,123.1 L359.5,123.1 L361.0,123.2 L362.5,123.2 L364.0,123.2 L365.5,123.3 L367.0,123.3 L368.5,123.3 L370.0,123.4 L371.5,123.4 L373.0,123.4 L374.5,123.4 L376.0,123.5" fill="none" stroke="#e10c1c" stroke-width="2.7"/>
<path d="M19.0,109.4 L20.5,110.2 L22.0,111.0 L23.5,111.8 L25.0,112.6 L26.5,113.3 L28.0,114.0 L29.5,114.7 L31.0,115.3 L32.5,116.0 L34.0,116.6 L35.5,117.2 L37.0,117.8 L38.5,118.3 L40.0,118.9 L41.5,119.4 L43.0,119.9 L44.5,120.4 L46.0,120.9 L47.5,121.4 L49.0,121.8 L50.5,122.3 L52.0,122.7 L53.5,123.1 L55.0,123.5 L56.5,123.9 L58.0,124.2 L59.5,124.6 L61.0,125.0 L62.5,125.3 L64.0,125.6 L65.5,126.0 L67.0,126.3 L68.5,126.6 L70.0,126.9 L71.5,127.2 L73.0,127.5 L74.5,127.7 L76.0,128.0 L77.5,128.3 L79.0,128.6 L80.5,128.8 L82.0,129.1 L83.5,129.3 L85.0,129.6 L86.5,129.8 L88.0,130.1 L89.5,130.3 L91.0,130.5 L92.5,130.8 L94.0,131.0 L95.5,131.2 L97.0,131.4 L98.5,131.6 L100.0,131.8 L101.5,132.0 L103.0,132.2 L104.5,132.4 L106.0,132.6 L107.5,132.8 L109.0,133.0 L110.5,133.1 L112.0,133.3 L113.5,133.5 L115.0,133.7 L116.5,133.8 L118.0,134.0 L119.5,134.2 L121.0,134.3 L122.5,134.5 L124.0,134.6 L125.5,134.8 L127.0,134.9 L128.5,135.0 L130.0,135.2 L131.5,135.3 L133.0,135.5 L134.5,135.6 L136.0,135.7 L137.5,135.8 L139.0,136.0 L140.5,136.1 L142.0,136.2 L143.5,136.3 L145.0,136.5 L146.5,136.6 L148.0,136.7 L149.5,136.8 L151.0,136.9 L152.5,137.0 L154.0,137.1 L155.5,137.2 L157.0,137.3 L158.5,137.4 L160.0,137.5 L161.5,137.6 L163.0,137.7 L164.5,137.8 L166.0,137.9 L167.5,138.0 L169.0,138.1 L170.5,138.2 L172.0,138.3 L173.5,138.4 L175.0,138.5 L176.5,138.6 L178.0,138.7 L179.5,138.7 L181.0,138.8 L182.5,138.9 L184.0,139.0 L185.5,139.1 L187.0,139.2 L188.5,139.3 L190.0,139.3 L191.5,139.4 L193.0,139.5 L194.5,139.6 L196.0,139.7 L197.5,139.7 L199.0,139.8 L200.5,139.9 L202.0,140.0 L203.5,140.0 L205.0,140.1 L206.5,140.2 L208.0,140.3 L209.5,140.3 L211.0,140.4 L212.5,140.5 L214.0,140.5 L215.5,140.6 L217.0,140.7 L218.5,140.8 L220.0,140.8 L221.5,140.9 L223.0,141.0 L224.5,141.0 L226.0,141.1 L227.5,141.1 L229.0,141.2 L230.5,141.3 L232.0,141.3 L233.5,141.4 L235.0,141.5 L236.5,141.5 L238.0,141.6 L239.5,141.6 L241.0,141.7 L242.5,141.7 L244.0,141.8 L245.5,141.9 L247.0,141.9 L248.5,142.0 L250.0,142.0 L251.5,142.1 L253.0,142.1 L254.5,142.2 L256.0,142.2 L257.5,142.3 L259.0,142.3 L260.5,142.4 L262.0,142.4 L263.5,142.5 L265.0,142.5 L266.5,142.6 L268.0,142.6 L269.5,142.6 L271.0,142.7 L272.5,142.7 L274.0,142.8 L275.5,142.8 L277.0,142.9 L278.5,142.9 L280.0,142.9 L281.5,143.0 L283.0,143.0 L284.5,143.0 L286.0,143.1 L287.5,143.1 L289.0,143.2 L290.5,143.2 L292.0,143.2 L293.5,143.3 L295.0,143.3 L296.5,143.3 L298.0,143.4 L299.5,143.4 L301.0,143.4 L302.5,143.4 L304.0,143.5 L305.5,143.5 L307.0,143.5 L308.5,143.6 L310.0,143.6 L311.5,143.6 L313.0,143.6 L314.5,143.7 L316.0,143.7 L317.5,143.7 L319.0,143.7 L320.5,143.8 L322.0,143.8 L323.5,143.8 L325.0,143.8 L326.5,143.8 L328.0,143.9 L329.5,143.9 L331.0,143.9 L332.5,143.9 L334.0,143.9 L335.5,144.0 L337.0,144.0 L338.5,144.0 L340.0,144.0 L341.5,144.0 L343.0,144.0 L344.5,144.1 L346.0,144.1 L347.5,144.1 L349.0,144.1 L350.5,144.1 L352.0,144.1 L353.5,144.1 L355.0,144.1 L356.5,144.1 L358.0,144.2 L359.5,144.2 L361.0,144.2 L362.5,144.2 L364.0,144.2 L365.5,144.2 L367.0,144.2 L368.5,144.2 L370.0,144.2 L371.5,144.2 L373.0,144.2 L374.5,144.2 L376.0,144.2" fill="none" stroke="#e10c1c" stroke-width="2.7"/>
<g clip-path="url(#cb)"><path d="M50.00,-329.35L379.00,-0.35M50.00,-324.89L379.00,4.11M50.00,-320.43L379.00,8.57M50.00,-315.96L379.00,13.04M50.00,-311.50L379.00,17.50M50.00,-307.04L379.00,21.96M50.00,-302.58L379.00,26.42M50.00,-298.11L379.00,30.89M50.00,-293.65L379.00,35.35M50.00,-289.19L379.00,39.81M50.00,-284.72L379.00,44.28M50.00,-280.26L379.00,48.74M50.00,-275.80L379.00,53.20M50.00,-271.33L379.00,57.67M50.00,-266.87L379.00,62.13M50.00,-262.41L379.00,66.59M50.00,-257.95L379.00,71.05M50.00,-253.48L379.00,75.52M50.00,-249.02L379.00,79.98M50.00,-244.56L379.00,84.44M50.00,-240.09L379.00,88.91M50.00,-235.63L379.00,93.37M50.00,-231.17L379.00,97.83M50.00,-226.70L379.00,102.30M50.00,-222.24L379.00,106.76M50.00,-217.78L379.00,111.22M50.00,-213.32L379.00,115.68M50.00,-208.85L379.00,120.15M50.00,-204.39L379.00,124.61M50.00,-199.93L379.00,129.07M50.00,-195.46L379.00,133.54M50.00,-191.00L379.00,138.00M50.00,-186.54L379.00,142.46M50.00,-182.07L379.00,146.93M50.00,-177.61L379.00,151.39M50.00,-173.15L379.00,155.85M50.00,-168.69L379.00,160.31M50.00,-164.22L379.00,164.78M50.00,-159.76L379.00,169.24M50.00,-155.30L379.00,173.70M50.00,-150.83L379.00,178.17M50.00,-146.37L379.00,182.63M50.00,-141.91L379.00,187.09M50.00,-137.44L379.00,191.56M50.00,-132.98L379.00,196.02M50.00,-128.52L379.00,200.48M50.00,-124.06L379.00,204.94M50.00,-119.59L379.00,209.41M50.00,-115.13L379.00,213.87M50.00,-110.67L379.00,218.33M50.00,-106.20L379.00,222.80M50.00,-101.74L379.00,227.26M50.00,-97.28L379.00,231.72M50.00,-92.81L379.00,236.19M50.00,-88.35L379.00,240.65M50.00,-83.89L379.00,245.11M50.00,-79.43L379.00,249.57M50.00,-74.96L379.00,254.04M50.00,-70.50L379.00,258.50M50.00,-66.04L379.00,262.96M50.00,-61.57L379.00,267.43M50.00,-57.11L379.00,271.89M50.00,-52.65L379.00,276.35M50.00,-48.18L379.00,280.82M50.00,-43.72L379.00,285.28M50.00,-39.26L379.00,289.74M50.00,-34.80L379.00,294.20M50.00,-30.33L379.00,298.67M50.00,-25.87L379.00,303.13M50.00,-21.41L379.00,307.59M50.00,-16.94L379.00,312.06M50.00,-12.48L379.00,316.52M50.00,-8.02L379.00,320.98M50.00,-3.55L379.00,325.45M50.00,0.91L379.00,329.91M50.00,5.37L379.00,334.37M50.00,9.83L379.00,338.83M50.00,14.30L379.00,343.30M50.00,18.76L379.00,347.76M50.00,23.22L379.00,352.22M50.00,27.69L379.00,356.69M50.00,32.15L379.00,361.15M50.00,36.61L379.00,365.61M50.00,41.08L379.00,370.08M50.00,45.54L379.00,374.54M50.00,50.00L379.00,379.00M50.00,54.46L379.00,383.46M50.00,58.93L379.00,387.93M50.00,63.39L379.00,392.39M50.00,67.85L379.00,396.85M50.00,72.32L379.00,401.32M50.00,76.78L379.00,405.78M50.00,81.24L379.00,410.24M50.00,85.71L379.00,414.71M50.00,90.17L379.00,419.17M50.00,94.63L379.00,423.63M50.00,99.09L379.00,428.10M50.00,103.56L379.00,432.56M50.00,108.02L379.00,437.02M50.00,112.48L379.00,441.48M50.00,116.95L379.00,445.95M50.00,121.41L379.00,450.41M50.00,125.87L379.00,454.87M50.00,130.34L379.00,459.34M50.00,134.80L379.00,463.80M50.00,139.26L379.00,468.26M50.00,143.72L379.00,472.73M50.00,148.19L379.00,477.19M50.00,152.65L379.00,481.65M50.00,157.11L379.00,486.11M50.00,161.58L379.00,490.58M50.00,166.04L379.00,495.04M50.00,170.50L379.00,499.50M50.00,174.97L379.00,503.97M50.00,179.43L379.00,508.43M50.00,183.89L379.00,512.89M50.00,188.35L379.00,517.36M50.00,192.82L379.00,521.82M50.00,197.28L379.00,526.28M50.00,201.74L379.00,530.74M50.00,206.21L379.00,535.21M50.00,210.67L379.00,539.67M50.00,215.13L379.00,544.13M50.00,219.60L379.00,548.60M50.00,224.06L379.00,553.06M50.00,228.52L379.00,557.52M50.00,232.99L379.00,561.99M50.00,237.45L379.00,566.45M50.00,241.91L379.00,570.91M50.00,246.37L379.00,575.37M50.00,250.84L379.00,579.84M50.00,255.30L379.00,584.30M50.00,259.76L379.00,588.76M50.00,-2.47L379.00,-331.47M50.00,1.99L379.00,-327.01M50.00,6.46L379.00,-322.54M50.00,10.92L379.00,-318.08M50.00,15.38L379.00,-313.62M50.00,19.85L379.00,-309.15M50.00,24.31L379.00,-304.69M50.00,28.77L379.00,-300.23M50.00,33.23L379.00,-295.77M50.00,37.70L379.00,-291.30M50.00,42.16L379.00,-286.84M50.00,46.62L379.00,-282.38M50.00,51.09L379.00,-277.91M50.00,55.55L379.00,-273.45M50.00,60.01L379.00,-268.99M50.00,64.48L379.00,-264.52M50.00,68.94L379.00,-260.06M50.00,73.40L379.00,-255.60M50.00,77.86L379.00,-251.14M50.00,82.33L379.00,-246.67M50.00,86.79L379.00,-242.21M50.00,91.25L379.00,-237.75M50.00,95.72L379.00,-233.28M50.00,100.18L379.00,-228.82M50.00,104.64L379.00,-224.36M50.00,109.11L379.00,-219.89M50.00,113.57L379.00,-215.43M50.00,118.03L379.00,-210.97M50.00,122.49L379.00,-206.51M50.00,126.96L379.00,-202.04M50.00,131.42L379.00,-197.58M50.00,135.88L379.00,-193.12M50.00,140.35L379.00,-188.65M50.00,144.81L379.00,-184.19M50.00,149.27L379.00,-179.73M50.00,153.74L379.00,-175.26M50.00,158.20L379.00,-170.80M50.00,162.66L379.00,-166.34M50.00,167.12L379.00,-161.88M50.00,171.59L379.00,-157.41M50.00,176.05L379.00,-152.95M50.00,180.51L379.00,-148.49M50.00,184.98L379.00,-144.02M50.00,189.44L379.00,-139.56M50.00,193.90L379.00,-135.10M50.00,198.37L379.00,-130.63M50.00,202.83L379.00,-126.17M50.00,207.29L379.00,-121.71M50.00,211.75L379.00,-117.25M50.00,216.22L379.00,-112.78M50.00,220.68L379.00,-108.32M50.00,225.14L379.00,-103.86M50.00,229.61L379.00,-99.39M50.00,234.07L379.00,-94.93M50.00,238.53L379.00,-90.47M50.00,243.00L379.00,-86.00M50.00,247.46L379.00,-81.54M50.00,251.92L379.00,-77.08M50.00,256.38L379.00,-72.62M50.00,260.85L379.00,-68.15M50.00,265.31L379.00,-63.69M50.00,269.77L379.00,-59.23M50.00,274.24L379.00,-54.76M50.00,278.70L379.00,-50.30M50.00,283.16L379.00,-45.84M50.00,287.62L379.00,-41.38M50.00,292.09L379.00,-36.91M50.00,296.55L379.00,-32.45M50.00,301.01L379.00,-27.99M50.00,305.48L379.00,-23.52M50.00,309.94L379.00,-19.06M50.00,314.40L379.00,-14.60M50.00,318.87L379.00,-10.13M50.00,323.33L379.00,-5.67M50.00,327.79L379.00,-1.21M50.00,332.25L379.00,3.25M50.00,336.72L379.00,7.72M50.00,341.18L379.00,12.18M50.00,345.64L379.00,16.64M50.00,350.11L379.00,21.11M50.00,354.57L379.00,25.57M50.00,359.03L379.00,30.03M50.00,363.50L379.00,34.50M50.00,367.96L379.00,38.96M50.00,372.42L379.00,43.42M50.00,376.88L379.00,47.88M50.00,381.35L379.00,52.35M50.00,385.81L379.00,56.81M50.00,390.27L379.00,61.27M50.00,394.74L379.00,65.74M50.00,399.20L379.00,70.20M50.00,403.66L379.00,74.66M50.00,408.13L379.00,79.13M50.00,412.59L379.00,83.59M50.00,417.05L379.00,88.05M50.00,421.52L379.00,92.52M50.00,425.98L379.00,96.98M50.00,430.44L379.00,101.44M50.00,434.90L379.00,105.90M50.00,439.37L379.00,110.37M50.00,443.83L379.00,114.83M50.00,448.29L379.00,119.29M50.00,452.76L379.00,123.76M50.00,457.22L379.00,128.22M50.00,461.68L379.00,132.68M50.00,466.14L379.00,137.14M50.00,470.61L379.00,141.61M50.00,475.07L379.00,146.07M50.00,479.53L379.00,150.53M50.00,484.00L379.00,155.00M50.00,488.46L379.00,159.46M50.00,492.92L379.00,163.92M50.00,497.39L379.00,168.39M50.00,501.85L379.00,172.85M50.00,506.31L379.00,177.31M50.00,510.77L379.00,181.77M50.00,515.24L379.00,186.24M50.00,519.70L379.00,190.70M50.00,524.16L379.00,195.16M50.00,528.63L379.00,199.63M50.00,533.09L379.00,204.09M50.00,537.55L379.00,208.55M50.00,542.02L379.00,213.02M50.00,546.48L379.00,217.48M50.00,550.94L379.00,221.94M50.00,555.41L379.00,226.41M50.00,559.87L379.00,230.87M50.00,564.33L379.00,235.33M50.00,568.79L379.00,239.79M50.00,573.26L379.00,244.26M50.00,577.72L379.00,248.72M50.00,582.18L379.00,253.18M50.00,586.65L379.00,257.65" stroke="#5c8fe9" stroke-width="1.15" fill="none"/></g>
<path d="M54.6,5.9 L54.6,7.4 L54.6,9.0 L54.6,10.5 L54.6,12.0 L54.6,13.5 L54.6,15.0 L54.6,16.5 L54.6,18.0 L54.6,19.5 L54.6,21.0 L54.6,22.5 L54.6,24.0 L54.6,25.5 L54.5,27.0 L54.5,28.5 L54.5,30.0 L54.5,31.5 L54.5,33.0 L54.5,34.5 L54.5,36.0 L54.5,37.5 L54.5,39.0 L54.5,40.4 L54.5,41.9 L54.5,43.4 L54.5,44.9 L54.6,46.4 L54.6,47.9 L54.6,49.4 L54.6,50.9 L54.7,52.4 L54.7,53.9 L54.8,55.3 L54.8,56.8 L54.9,58.3 L54.9,59.8 L55.0,61.3 L55.1,62.8 L55.2,64.3 L55.3,65.7 L55.4,67.2 L55.5,68.7 L55.6,70.2 L55.7,71.7 L55.8,73.2 L56.0,74.6 L56.1,76.1 L56.3,77.6 L56.5,79.1 L56.6,80.6 L56.8,82.0 L57.0,83.5 L57.2,85.0 L57.5,86.5 L57.7,88.0 L57.9,89.4 L58.2,90.9 L58.5,92.4 L58.7,93.9 L59.0,95.3 L59.3,96.8 L59.6,98.3 L59.9,99.8 L60.2,101.2 L60.5,102.7 L60.8,104.2 L61.2,105.7 L61.5,107.1 L61.8,108.6 L62.1,110.1 L62.4,111.6 L62.7,113.0 L62.9,114.5 L63.2,116.0 L63.5,117.4 L63.7,118.9 L64.0,120.4 L64.2,121.9 L64.4,123.3 L64.6,124.8 L64.8,126.3 L65.0,127.7 L65.2,129.2 L65.3,130.7 L65.5,132.1 L65.6,133.6 L65.8,135.1 L66.1,136.6 L67.3,137.5 L68.2,138.7 L69.0,140.0 L69.9,141.2 L70.7,142.5 L71.5,143.7 L72.4,145.0 L73.2,146.2 L74.0,147.5 L74.9,148.8 L75.7,150.0 L76.5,151.2 L77.3,152.5 L78.2,153.7 L79.0,155.0 L79.9,156.2 L80.7,157.4 L81.6,158.6 L82.5,159.9 L83.4,161.1 L84.3,162.3 L85.2,163.5 L86.1,164.6 L87.0,165.8 L87.9,167.0 L88.9,168.1 L89.9,169.3 L90.8,170.4 L91.8,171.5 L92.8,172.7 L93.8,173.8 L94.8,174.8 L95.8,175.9 L96.8,177.0 L97.9,178.1 L98.9,179.1 L100.0,180.1 L101.1,181.1 L102.2,182.1 L103.3,183.1 L104.4,184.1 L105.5,185.1 L106.6,186.0 L107.8,186.9 L108.9,187.9 L110.1,188.8 L111.2,189.7 L112.4,190.5 L113.6,191.4 L114.8,192.3 L116.0,193.1 L117.2,194.0 L118.4,194.8 L119.7,195.6 L120.9,196.4 L122.1,197.2 L123.4,198.0 L124.7,198.8 L125.9,199.6 L127.2,200.4 L128.5,201.1 L129.8,201.9 L131.1,202.6 L132.4,203.4 L133.7,204.1 L135.0,204.9 L136.3,205.6 L137.6,206.3 L138.9,207.0 L140.3,207.8 L141.6,208.5 L142.9,209.2 L144.3,209.9 L145.6,210.6 L147.0,211.2 L148.3,211.9 L149.7,212.6 L151.0,213.3 L152.4,213.9 L153.8,214.6 L155.1,215.2 L156.5,215.9 L157.9,216.5 L159.3,217.1 L160.6,217.8 L162.0,218.4 L163.4,219.0 L164.8,219.6 L166.1,220.2 L167.5,220.8 L168.9,221.3 L170.3,221.9 L171.7,222.5 L173.0,223.0 L174.4,223.6 L175.8,224.1 L177.2,224.7 L178.6,225.2 L180.0,225.8 L181.4,226.3 L182.8,226.8 L184.2,227.3 L185.5,227.9 L186.9,228.4 L188.3,228.9 L189.7,229.4 L191.1,229.9 L192.5,230.4 L193.9,230.9 L195.3,231.3 L196.7,231.8 L198.1,232.3 L199.5,232.8 L201.0,233.2 L202.4,233.7 L203.8,234.2 L205.2,234.6 L206.6,235.1 L208.0,235.6 L209.4,236.0 L210.8,236.5 L212.2,236.9 L213.7,237.4 L215.1,237.8 L216.5,238.3 L217.9,238.7 L219.3,239.1 L220.8,239.6 L222.2,240.0 L223.6,240.5 L225.0,240.9 L226.5,241.3 L227.9,241.8 L229.3,242.2 L230.7,242.6 L232.2,243.1 L233.6,243.5 L235.0,243.9 L236.5,244.4 L237.9,244.8 L239.3,245.2 L240.8,245.7 L242.2,246.1 L243.7,246.5 L245.1,247.0 L246.5,247.4 L248.0,247.8 L249.4,248.3 L250.9,248.7 L252.3,249.2 L253.8,249.6 L255.2,250.1 L256.7,250.5 L258.1,251.0" fill="none" stroke="#5c8fe9" stroke-width="2.6" stroke-linejoin="round"/>
<path d="M83.7,6.2 L83.7,7.7 L83.7,9.2 L83.7,10.6 L83.8,12.1 L83.9,13.6 L84.0,15.1 L84.1,16.5 L84.3,18.0 L84.4,19.5 L84.6,20.9 L84.8,22.4 L85.0,23.9 L85.2,25.3 L85.4,26.8 L85.7,28.3 L85.9,29.7 L86.2,31.2 L86.5,32.6 L86.8,34.1 L87.1,35.6 L87.5,37.0 L87.8,38.5 L88.2,39.9 L88.5,41.4 L88.9,42.8 L89.3,44.3 L89.7,45.7 L90.1,47.2 L90.6,48.6 L91.0,50.0 L91.5,51.5 L91.9,52.9 L92.4,54.3 L92.9,55.8 L93.4,57.2 L93.8,58.6 L94.4,60.1 L94.9,61.5 L95.4,62.9 L95.9,64.3 L96.5,65.7 L97.0,67.1 L97.6,68.5 L98.1,69.9 L98.7,71.4 L99.3,72.8 L99.9,74.1 L100.4,75.5 L101.0,76.9 L101.6,78.3 L102.2,79.7 L102.9,81.1 L103.5,82.5 L104.1,83.8 L104.7,85.2 L105.4,86.6 L106.0,87.9 L106.7,89.3 L107.3,90.7 L108.0,92.0 L108.6,93.4 L109.3,94.7 L110.0,96.0 L110.7,97.4 L111.4,98.7 L112.1,100.0 L112.8,101.3 L113.5,102.7 L114.2,104.0 L114.9,105.3 L115.6,106.6 L116.4,107.9 L117.1,109.2 L117.9,110.4 L118.7,111.7 L119.4,113.0 L120.2,114.2 L121.0,115.5 L121.8,116.7 L122.6,118.0 L123.4,119.2 L124.3,120.5 L125.1,121.7 L125.9,122.9 L126.8,124.1 L127.7,125.3 L128.5,126.5 L129.4,127.7 L130.3,128.9 L131.2,130.0 L132.2,131.2 L133.1,132.4 L134.0,133.5 L135.0,134.6 L136.0,135.8 L136.9,136.9 L137.9,138.0 L138.9,139.1 L139.9,140.2 L140.9,141.3 L141.9,142.4 L143.0,143.5 L144.0,144.6 L145.1,145.6 L146.1,146.7 L147.2,147.7 L148.3,148.7 L149.4,149.8 L150.5,150.8 L151.6,151.8 L152.7,152.8 L153.9,153.8 L155.0,154.8 L156.1,155.8 L157.3,156.7 L158.5,157.7 L159.6,158.6 L160.8,159.6 L162.0,160.5 L163.2,161.4 L164.3,162.4 L165.5,163.3 L166.7,164.2 L168.0,165.0 L169.2,165.9 L170.4,166.8 L171.6,167.7 L172.8,168.5 L174.1,169.4 L175.3,170.2 L176.6,171.0 L177.8,171.9 L179.1,172.7 L180.3,173.5 L181.6,174.3 L182.9,175.1 L184.2,175.9 L185.5,176.6 L186.7,177.4 L188.0,178.2 L189.3,178.9 L190.6,179.7 L191.9,180.4 L193.2,181.1 L194.6,181.9 L195.9,182.6 L197.2,183.3 L198.5,184.0 L199.9,184.7 L201.2,185.4 L202.5,186.1 L203.9,186.8 L205.2,187.4 L206.6,188.1 L207.9,188.7 L209.3,189.4 L210.6,190.0 L212.0,190.7 L213.4,191.3 L214.7,191.9 L216.1,192.6 L217.5,193.2 L218.8,193.8 L220.2,194.4 L221.6,195.0 L223.0,195.6 L224.4,196.2 L225.8,196.7 L227.1,197.3 L228.5,197.9 L229.9,198.4 L231.3,199.0 L232.7,199.6 L234.1,200.1 L235.5,200.6 L236.9,201.2 L238.3,201.7 L239.7,202.2 L241.2,202.8 L242.6,203.3 L244.0,203.8 L245.4,204.3 L246.8,204.8 L248.2,205.3 L249.6,205.8 L251.0,206.3 L252.5,206.8 L253.9,207.3 L255.3,207.7 L256.7,208.2 L258.2,208.7 L259.6,209.1 L261.0,209.6 L262.4,210.0 L263.9,210.5 L265.3,210.9 L266.7,211.4 L268.1,211.8 L269.6,212.2 L271.0,212.7 L272.4,213.1 L273.9,213.5 L275.3,213.9 L276.8,214.3 L278.2,214.7 L279.6,215.2 L281.1,215.6 L282.5,215.9 L284.0,216.3 L285.4,216.7 L286.8,217.1 L288.3,217.5 L289.7,217.9 L291.2,218.2 L292.6,218.6 L294.1,219.0 L295.5,219.3 L297.0,219.7 L298.4,220.1 L299.9,220.4 L301.3,220.8 L302.8,221.1 L304.3,221.5 L305.7,221.8 L307.2,222.1 L308.6,222.5 L310.1,222.8 L311.6,223.1 L313.0,223.4 L314.5,223.8 L315.9,224.1 L317.4,224.4 L318.9,224.7 L320.3,225.0 L321.8,225.3 L323.3,225.6 L324.7,225.9 L326.2,226.2 L327.7,226.5 L329.1,226.8 L330.6,227.1 L332.1,227.4 L333.6,227.7 L335.0,227.9 L336.5,228.2 L338.0,228.5 L339.5,228.8 L340.9,229.0 L342.4,229.3 L343.9,229.6 L345.4,229.8 L346.8,230.1 L348.3,230.3 L349.8,230.6 L351.3,230.9 L352.8,231.1 L354.3,231.4 L355.7,231.6 L357.2,231.8 L358.7,232.1 L360.2,232.3 L361.7,232.6 L363.2,232.8 L364.6,233.0 L366.1,233.3 L367.6,233.5 L369.1,233.7 L370.6,234.0 L372.1,234.2 L373.6,234.4 L375.1,234.6 L376.5,234.9 L378.0,235.1" fill="none" stroke="#5c8fe9" stroke-width="2.6" stroke-linejoin="round"/>
<path d="M19.0,84.0 L20.5,85.1 L22.0,86.2 L23.5,87.2 L25.0,88.2 L26.5,89.2 L28.0,90.2 L29.5,91.2 L31.0,92.1 L32.5,93.0 L34.0,93.9 L35.5,94.7 L37.0,95.6 L38.5,96.4 L40.0,97.2 L41.5,97.9 L43.0,98.7 L44.5,99.4 L46.0,100.1 L47.5,100.8 L49.0,101.5 L50.5,102.1 L52.0,102.8 L53.5,103.4 L55.0,104.0 L56.5,104.6 L58.0,105.2 L59.5,105.7 L61.0,106.3 L62.5,106.8 L64.0,107.3 L65.5,107.9 L67.0,108.4 L68.5,108.9 L70.0,109.3 L71.5,109.8 L73.0,110.3 L74.5,110.7 L76.0,111.2 L77.5,111.6 L79.0,112.0 L80.5,112.4 L82.0,112.8 L83.5,113.2 L85.0,113.6 L86.5,114.0 L88.0,114.4 L89.5,114.7 L91.0,115.1 L92.5,115.4 L94.0,115.8 L95.5,116.1 L97.0,116.4 L98.5,116.8 L100.0,117.1 L101.5,117.4 L103.0,117.7 L104.5,118.0 L106.0,118.3 L107.5,118.5 L109.0,118.8 L110.5,119.1 L112.0,119.3 L113.5,119.6 L115.0,119.8 L116.5,120.1 L118.0,120.3 L119.5,120.5 L121.0,120.8 L122.5,121.0 L124.0,121.2 L125.5,121.4 L127.0,121.6 L128.5,121.8 L130.0,122.0 L131.5,122.2 L133.0,122.4 L134.5,122.6 L136.0,122.8 L137.5,123.0 L139.0,123.2 L140.5,123.3 L142.0,123.5 L143.5,123.7 L145.0,123.8 L146.5,124.0 L148.0,124.2 L149.5,124.3 L151.0,124.5 L152.5,124.6 L154.0,124.8 L155.5,124.9 L157.0,125.1 L158.5,125.2 L160.0,125.3 L161.5,125.5 L163.0,125.6 L164.5,125.8 L166.0,125.9 L167.5,126.0 L169.0,126.2 L170.5,126.3 L172.0,126.4 L173.5,126.6 L175.0,126.7 L176.5,126.8 L178.0,127.0 L179.5,127.1 L181.0,127.2 L182.5,127.3 L184.0,127.5 L185.5,127.6 L187.0,127.7 L188.5,127.8 L190.0,127.9 L191.5,128.0 L193.0,128.2 L194.5,128.3 L196.0,128.4 L197.5,128.5 L199.0,128.6 L200.5,128.7 L202.0,128.8 L203.5,128.9 L205.0,129.0 L206.5,129.1 L208.0,129.2 L209.5,129.3 L211.0,129.4 L212.5,129.5 L214.0,129.6 L215.5,129.7 L217.0,129.8 L218.5,129.9 L220.0,130.0 L221.5,130.1 L223.0,130.2 L224.5,130.2 L226.0,130.3 L227.5,130.4 L229.0,130.5 L230.5,130.6 L232.0,130.7 L233.5,130.8 L235.0,130.8 L236.5,130.9 L238.0,131.0 L239.5,131.1 L241.0,131.1 L242.5,131.2 L244.0,131.3 L245.5,131.4 L247.0,131.4 L248.5,131.5 L250.0,131.6 L251.5,131.6 L253.0,131.7 L254.5,131.8 L256.0,131.8 L257.5,131.9 L259.0,132.0 L260.5,132.0 L262.0,132.1 L263.5,132.1 L265.0,132.2 L266.5,132.3 L268.0,132.3 L269.5,132.4 L271.0,132.4 L272.5,132.5 L274.0,132.5 L275.5,132.6 L277.0,132.6 L278.5,132.7 L280.0,132.7 L281.5,132.8 L283.0,132.8 L284.5,132.9 L286.0,132.9 L287.5,133.0 L289.0,133.0 L290.5,133.1 L292.0,133.1 L293.5,133.1 L295.0,133.2 L296.5,133.2 L298.0,133.3 L299.5,133.3 L301.0,133.3 L302.5,133.4 L304.0,133.4 L305.5,133.4 L307.0,133.5 L308.5,133.5 L310.0,133.5 L311.5,133.6 L313.0,133.6 L314.5,133.6 L316.0,133.7 L317.5,133.7 L319.0,133.7 L320.5,133.7 L322.0,133.8 L323.5,133.8 L325.0,133.8 L326.5,133.8 L328.0,133.9 L329.5,133.9 L331.0,133.9 L332.5,133.9 L334.0,133.9 L335.5,134.0 L337.0,134.0 L338.5,134.0 L340.0,134.0 L341.5,134.0 L343.0,134.0 L344.5,134.1 L346.0,134.1 L347.5,134.1 L349.0,134.1 L350.5,134.1 L352.0,134.1 L353.5,134.1 L355.0,134.1 L356.5,134.2 L358.0,134.2 L359.5,134.2 L361.0,134.2 L362.5,134.2 L364.0,134.2 L365.5,134.2 L367.0,134.2 L368.5,134.2 L370.0,134.2 L371.5,134.2 L373.0,134.2 L374.5,134.2 L376.0,134.2" fill="none" stroke="#e10c1c" stroke-width="2.7"/>
<path d="M62.4,5.9 L62.4,7.4 L62.4,8.9 L62.4,10.5 L62.4,12.0 L62.4,13.5 L62.4,15.0 L62.4,16.5 L62.4,18.1 L62.4,19.6 L62.4,21.1 L62.4,22.6 L62.5,24.1 L62.5,25.6 L62.5,27.1 L62.6,28.6 L62.6,30.1 L62.7,31.6 L62.7,33.1 L62.8,34.6 L62.9,36.1 L63.0,37.6 L63.0,39.1 L63.1,40.6 L63.3,42.0 L63.4,43.5 L63.5,45.0 L63.6,46.5 L63.8,48.0 L63.9,49.4 L64.1,50.9 L64.3,52.4 L64.4,53.8 L64.6,55.3 L64.9,56.8 L65.1,58.2 L65.3,59.7 L65.6,61.2 L65.8,62.6 L66.1,64.1 L66.4,65.5 L66.7,67.0 L67.0,68.4 L67.3,69.9 L67.7,71.3 L68.0,72.8 L68.4,74.2 L68.8,75.7 L69.2,77.1 L69.6,78.5 L70.0,80.0 L70.4,81.4 L70.9,82.8 L71.3,84.3 L71.8,85.7 L72.3,87.1 L72.8,88.6 L73.3,90.0 L73.8,91.4 L74.3,92.8 L74.8,94.3 L75.3,95.7 L75.8,97.1 L76.4,98.5 L76.9,99.9 L77.5,101.3 L78.0,102.7 L78.6,104.2 L79.2,105.6 L79.8,107.0 L80.3,108.4 L80.9,109.8 L81.5,111.2 L82.1,112.5 L82.7,113.9 L83.4,115.3 L84.0,116.7 L84.6,118.0 L85.3,119.3 L86.0,120.7 L86.6,122.0 L87.3,123.3 L88.0,124.6 L88.7,125.8 L89.5,127.1 L90.2,128.3 L91.0,129.5 L91.7,130.8 L92.5,132.0 L93.3,133.1 L94.1,134.3 L94.9,135.5 L95.8,136.7 L96.6,137.8 L97.5,139.0 L98.4,140.2 L99.3,141.4 L100.1,142.5 L101.1,143.7 L102.0,144.9 L102.9,146.0 L103.9,147.2 L104.8,148.4 L105.8,149.5 L106.7,150.7 L107.7,151.9 L108.7,153.0 L109.7,154.2 L110.7,155.3 L111.8,156.4 L112.8,157.5 L113.9,158.6 L114.9,159.7 L116.0,160.7 L117.0,161.7 L118.1,162.7 L119.2,163.6 L120.3,164.6 L121.4,165.5 L122.5,166.4 L123.6,167.3 L124.7,168.3 L125.9,169.2 L127.0,170.1 L128.2,171.0 L129.3,171.9 L130.5,172.9 L131.6,173.8 L132.8,174.7 L134.0,175.7 L135.2,176.6 L136.4,177.5 L137.5,178.4 L138.7,179.3 L139.9,180.2 L141.1,181.1 L142.4,182.0 L143.6,182.9 L144.8,183.7 L146.0,184.6 L147.3,185.4 L148.5,186.3 L149.7,187.1 L151.0,187.9 L152.2,188.7 L153.5,189.6 L154.7,190.4 L156.0,191.2 L157.2,191.9 L158.5,192.7 L159.8,193.5 L161.0,194.3 L162.3,195.1 L163.6,195.8 L164.9,196.6 L166.2,197.4 L167.5,198.1 L168.8,198.9 L170.1,199.6 L171.4,200.4 L172.7,201.1 L174.0,201.9 L175.3,202.6 L176.6,203.4 L178.0,204.1 L179.3,204.8 L180.6,205.5 L182.0,206.2 L183.3,207.0 L184.6,207.7 L186.0,208.3 L187.3,209.0 L188.7,209.7 L190.0,210.4 L191.4,211.0 L192.7,211.7 L194.1,212.3 L195.5,212.9 L196.8,213.5 L198.2,214.1 L199.6,214.7 L201.0,215.3 L202.3,215.8 L203.7,216.4 L205.1,216.9 L206.5,217.4 L207.9,217.9 L209.3,218.4 L210.7,218.9 L212.1,219.4 L213.5,219.9 L214.9,220.3 L216.3,220.8 L217.7,221.2 L219.1,221.7 L220.5,222.1 L221.9,222.5 L223.3,223.0 L224.7,223.4 L226.2,223.8 L227.6,224.2 L229.0,224.6 L230.4,225.0 L231.9,225.4 L233.3,225.8 L234.7,226.2 L236.1,226.7 L237.6,227.1 L239.0,227.5 L240.5,227.9 L241.9,228.3 L243.3,228.7 L244.8,229.1 L246.2,229.5 L247.7,230.0 L249.1,230.4 L250.6,230.8 L252.0,231.2 L253.5,231.6 L254.9,232.0 L256.4,232.4 L257.8,232.8 L259.3,233.1 L260.8,233.5 L262.2,233.9 L263.7,234.2 L265.1,234.5 L266.6,234.9 L268.1,235.2 L269.5,235.5 L271.0,235.8 L272.5,236.1 L273.9,236.4 L275.4,236.7 L276.9,237.0 L278.3,237.3 L279.8,237.6 L281.3,237.8 L282.7,238.1 L284.2,238.4 L285.7,238.6 L287.1,238.9 L288.6,239.1 L290.1,239.4 L291.6,239.6 L293.0,239.9 L294.5,240.1 L296.0,240.4 L297.5,240.6 L298.9,240.9 L300.4,241.1 L301.9,241.4 L303.4,241.6 L304.8,241.9 L306.3,242.1 L307.8,242.4 L309.3,242.7 L310.7,242.9 L312.2,243.2 L313.7,243.5 L315.2,243.7 L316.6,244.0 L318.1,244.3 L319.6,244.6 L321.0,244.8 L322.5,245.1 L324.0,245.4 L325.5,245.7 L326.9,246.0 L328.4,246.3 L329.9,246.6 L331.3,246.8 L332.8,247.1 L334.3,247.4 L335.7,247.7 L337.2,248.0 L338.6,248.3 L340.1,248.5 L341.6,248.8 L343.0,249.1 L344.5,249.4 L345.9,249.6" fill="none" stroke="#5c8fe9" stroke-width="2.0"/>
<path d="M71.8,85.7 L72.3,87.1 L72.8,88.6 L73.3,90.0 L73.8,91.4 L74.3,92.8 L74.8,94.3 L75.3,95.7 L75.8,97.1 L76.4,98.5 L76.9,99.9 L77.5,101.3 L78.0,102.7 L78.6,104.2 L79.2,105.6 L79.8,107.0 L80.3,108.4 L80.9,109.8 L81.5,111.2 L82.1,112.5 L82.7,113.9 L83.4,115.3 L84.0,116.7 L84.6,118.0 L85.3,119.3 L86.0,120.7 L86.6,122.0 L87.3,123.3 L88.0,124.6 L88.7,125.8 L89.5,127.1 L90.2,128.3 L91.0,129.5 L91.7,130.8 L92.5,132.0 L93.3,133.1 L94.1,134.3 L94.9,135.5 L95.8,136.7 L96.6,137.8 L97.5,139.0 L98.4,140.2 L99.3,141.4 L100.1,142.5 L101.1,143.7 L102.0,144.9 L102.9,146.0 L103.9,147.2 L104.8,148.4 L105.8,149.5 L106.7,150.7 L107.7,151.9 L108.7,153.0 L109.7,154.2 L110.7,155.3 L111.8,156.4 L112.8,157.5 L113.9,158.6 L114.9,159.7 L116.0,160.7 L117.0,161.7 L118.1,162.7 L119.2,163.6 L120.3,164.6 L121.4,165.5 L122.5,166.4 L123.6,167.3 L124.7,168.3 L125.9,169.2 L127.0,170.1 L128.2,171.0 L129.3,171.9 L130.5,172.9 L131.6,173.8 L132.8,174.7 L134.0,175.7 L135.2,176.6 L136.4,177.5 L137.5,178.4 L138.7,179.3 L139.9,180.2 L141.1,181.1 L142.4,182.0 L143.6,182.9 L144.8,183.7 L146.0,184.6 L147.3,185.4 L148.5,186.3 L149.7,187.1 L151.0,187.9 L152.2,188.7 L153.5,189.6 L154.7,190.4 L156.0,191.2 L157.2,191.9 L158.5,192.7 L159.8,193.5 L161.0,194.3 L162.3,195.1 L163.6,195.8 L164.9,196.6 L166.2,197.4 L167.5,198.1 L168.8,198.9 L170.1,199.6 L171.4,200.4 L172.7,201.1 L174.0,201.9 L175.3,202.6 L176.6,203.4 L178.0,204.1 L179.3,204.8 L180.6,205.5 L182.0,206.2 L183.3,207.0 L184.6,207.7 L186.0,208.3 L187.3,209.0 L188.7,209.7 L190.0,210.4 L191.4,211.0 L192.7,211.7 L194.1,212.3 L195.5,212.9 L196.8,213.5 L198.2,214.1 L199.6,214.7 L201.0,215.3 L202.3,215.8 L203.7,216.4 L205.1,216.9 L206.5,217.4 L207.9,217.9 L209.3,218.4 L210.7,218.9 L212.1,219.4 L213.5,219.9 L214.9,220.3 L216.3,220.8 L217.7,221.2 L219.1,221.7 L220.5,222.1 L221.9,222.5 L223.3,223.0 L224.7,223.4 L226.2,223.8 L227.6,224.2 L229.0,224.6 L230.4,225.0 L231.9,225.4 L233.3,225.8 L234.7,226.2 L236.1,226.7 L237.6,227.1 L239.0,227.5 L240.5,227.9 L241.9,228.3 L243.3,228.7 L244.8,229.1 L246.2,229.5 L247.7,230.0 L249.1,230.4 L250.6,230.8 L252.0,231.2 L253.5,231.6 L254.9,232.0 L256.4,232.4 L257.8,232.8 L259.3,233.1 L260.8,233.5 L262.2,233.9 L263.7,234.2 L265.1,234.5 L266.6,234.9 L268.1,235.2 L269.5,235.5 L271.0,235.8 L272.5,236.1 L273.9,236.4 L275.4,236.7 L276.9,237.0 L278.3,237.3 L279.8,237.6 L281.3,237.8 L282.7,238.1 L284.2,238.4 L285.7,238.6 L287.1,238.9 L288.6,239.1 L290.1,239.4 L291.6,239.6 L293.0,239.9 L294.5,240.1 L296.0,240.4 L297.5,240.6 L298.9,240.9 L300.4,241.1 L301.9,241.4 L303.4,241.6 L304.8,241.9 L306.3,242.1 L307.8,242.4 L309.3,242.7 L310.7,242.9 L312.2,243.2 L313.7,243.5 L315.2,243.7 L316.6,244.0 L318.1,244.3 L319.6,244.6 L321.0,244.8 L322.5,245.1 L324.0,245.4 L325.5,245.7 L326.9,246.0 L328.4,246.3 L329.9,246.6 L331.3,246.8 L332.8,247.1 L334.3,247.4 L335.7,247.7 L337.2,248.0 L338.6,248.3 L340.1,248.5 L341.6,248.8 L343.0,249.1 L344.5,249.4 L345.9,249.6" fill="none" stroke="#5c8fe9" stroke-width="2.6"/>
</g>
<path d="M339.5,248.9 L345.8,249.7" stroke="#5c8fe9" stroke-width="1.5" fill="none"/>
<!-- legend boxes -->
<g clip-path="url(#clr)"><path d="M84.00,144.92L126.00,186.92M84.00,151.22L126.00,193.22M84.00,157.52L126.00,199.52M84.00,163.82L126.00,205.82M84.00,170.12L126.00,212.12M84.00,176.42L126.00,218.42M84.00,182.72L126.00,224.72M84.00,189.02L126.00,231.02M84.00,195.32L126.00,237.32M84.00,201.62L126.00,243.62M84.00,207.92L126.00,249.92M84.00,214.22L126.00,256.22M84.00,220.52L126.00,262.52M84.00,183.68L126.00,141.68M84.00,189.98L126.00,147.98M84.00,196.28L126.00,154.28M84.00,202.58L126.00,160.58M84.00,208.88L126.00,166.88M84.00,215.18L126.00,173.18M84.00,221.48L126.00,179.48M84.00,227.78L126.00,185.78M84.00,234.08L126.00,192.08M84.00,240.38L126.00,198.38M84.00,246.68L126.00,204.68M84.00,252.98L126.00,210.98M84.00,259.28L126.00,217.28" stroke="#e10c1c" stroke-width="1.9" fill="none"/></g>
<rect x="85.65" y="198.15" width="38.0" height="7.5" fill="none" stroke="#e10c1c" stroke-width="2.5"/>
<g clip-path="url(#clb)"><path d="M84.00,179.40L126.00,221.40M84.00,182.55L126.00,224.55M84.00,185.70L126.00,227.70M84.00,188.85L126.00,230.85M84.00,192.00L126.00,234.00M84.00,195.15L126.00,237.15M84.00,198.30L126.00,240.30M84.00,201.45L126.00,243.45M84.00,204.60L126.00,246.60M84.00,207.75L126.00,249.75M84.00,210.90L126.00,252.90M84.00,214.05L126.00,256.05M84.00,217.20L126.00,259.20M84.00,220.35L126.00,262.35M84.00,223.50L126.00,265.50M84.00,226.65L126.00,268.65M84.00,229.80L126.00,271.80M84.00,232.95L126.00,274.95M84.00,236.10L126.00,278.10M84.00,239.25L126.00,281.25M84.00,242.40L126.00,284.40M84.00,220.35L126.00,178.35M84.00,223.50L126.00,181.50M84.00,226.65L126.00,184.65M84.00,229.80L126.00,187.80M84.00,232.95L126.00,190.95M84.00,236.10L126.00,194.10M84.00,239.25L126.00,197.25M84.00,242.40L126.00,200.40M84.00,245.55L126.00,203.55M84.00,248.70L126.00,206.70M84.00,251.85L126.00,209.85M84.00,255.00L126.00,213.00M84.00,258.15L126.00,216.15M84.00,261.30L126.00,219.30M84.00,264.45L126.00,222.45M84.00,267.60L126.00,225.60M84.00,270.75L126.00,228.75M84.00,273.90L126.00,231.90M84.00,277.05L126.00,235.05M84.00,280.20L126.00,238.20M84.00,283.35L126.00,241.35" stroke="#5c8fe9" stroke-width="1.45" fill="none"/></g>
<rect x="85.65" y="227.35" width="37.7" height="7.0" fill="none" stroke="#5c8fe9" stroke-width="2.5"/>
<g font-size="11.6"><text x="20.6" y="261.1" text-anchor="middle">100</text><text x="78.1" y="261.1" text-anchor="middle">150</text><text x="135.5" y="261.1" text-anchor="middle">200</text><text x="193.0" y="261.1" text-anchor="middle">250</text><text x="250.5" y="261.1" text-anchor="middle">300</text><text x="307.9" y="261.1" text-anchor="middle">350</text><text x="365.4" y="261.1" text-anchor="middle">400</text><text x="381" y="252.5">100</text><text x="381" y="228.4">150</text><text x="381" y="204.4">200</text><text x="381" y="180.3">250</text><text x="381" y="156.3">300</text><text x="381" y="132.2">350</text><text x="381" y="108.2">400</text><text x="381" y="84.2">450</text><text x="381" y="60.1">500</text><text x="381" y="36.1">550</text><text x="381" y="12.0">600</text></g>
<!-- annotations -->
<text font-size="14" transform="translate(134.60,22.50) scale(1.064,1)">m</text><text font-size="12" transform="translate(147.26,26.70) scale(1.090,1)">h</text><text font-size="9.5" transform="translate(154.54,30.10) scale(1.090,1)">2</text><text font-size="14" transform="translate(163.90,23.30) scale(1.090,1)">=</text><text font-size="14" transform="translate(175.91,22.50) scale(0.990,1)">m</text><text font-size="12" transform="translate(188.15,26.40) scale(1.090,1)">H</text><text class="g" font-size="10.5" transform="translate(197.04,22.20) scale(0.960,1)">±</text><text font-size="14" transform="translate(206.25,23.30) scale(1.090,1)">=</text><text font-size="14" transform="translate(219.01,22.50) scale(1.025,1)">400</text><text font-size="14" transform="translate(247.07,22.50) scale(1.090,1)">GeV;</text><text font-size="14" transform="translate(134.60,47.10) scale(1.064,1)">m</text><text font-size="12" transform="translate(147.79,51.70) scale(1.030,1)">A</text><text font-size="9" transform="translate(156.36,47.10) scale(1.018,1)">0</text><text font-size="14" transform="translate(164.55,47.90) scale(1.090,1)">=</text><text font-size="14" transform="translate(177.96,47.10) scale(1.041,1)">150</text><text font-size="14" transform="translate(206.48,47.10) scale(1.054,1)">GeV;</text><text font-size="14" transform="translate(255.66,47.10) scale(0.990,1)">m</text><text font-size="12" transform="translate(267.59,51.70) scale(1.090,1)">P</text><text font-size="9" transform="translate(275.93,47.10) scale(1.066,1)">0</text><text font-size="14" transform="translate(285.00,47.90) scale(1.090,1)">=</text><text font-size="14" transform="translate(297.62,47.10) scale(1.069,1)">100</text><text font-size="14" transform="translate(325.42,47.10) scale(1.090,1)">GeV;</text><text font-size="14" transform="translate(136.15,71.30) scale(0.750,1)">|</text><text font-size="14" transform="translate(138.95,71.30) scale(1.057,1)">y</text><text font-size="12" transform="translate(146.37,75.90) scale(0.990,1)">1</text><text font-size="14" transform="translate(153.60,71.30) scale(0.800,1)">|</text><text font-size="14" transform="translate(160.30,72.10) scale(1.090,1)">=</text><text font-size="14" transform="translate(173.53,71.30) scale(1.090,1)">0.1;</text><text font-size="14" transform="translate(203.65,71.30) scale(0.750,1)">|</text><text font-size="14" transform="translate(206.25,71.30) scale(1.057,1)">y</text><text font-size="12" transform="translate(214.52,75.90) scale(0.990,1)">2</text><text font-size="14" transform="translate(222.05,71.30) scale(0.750,1)">|</text><text font-size="14" transform="translate(228.65,72.10) scale(1.090,1)">=</text><text font-size="14" transform="translate(241.78,71.30) scale(1.090,1)">0.5;</text><text font-size="14" transform="translate(271.50,71.30) scale(0.750,1)">|</text><text font-size="14" transform="translate(274.15,71.30) scale(1.057,1)">y</text><text font-size="12" transform="translate(282.33,75.90) scale(0.990,1)">3</text><text font-size="14" transform="translate(289.45,71.30) scale(0.750,1)">|</text><text font-size="14" transform="translate(296.35,72.10) scale(1.090,1)">=</text><text font-size="14" transform="translate(309.52,71.30) scale(1.074,1)">2.5;</text><text class="g" font-size="14" transform="translate(134.92,95.40) scale(1.255,1)">θ</text><text font-size="12" transform="translate(142.86,99.40) scale(0.990,1)">13</text><text font-size="14" transform="translate(159.70,96.20) scale(1.090,1)">=</text><text font-size="14" transform="translate(172.63,95.40) scale(0.992,1)">10</text><text class="n" font-size="14" transform="translate(186.94,95.40) scale(1.213,1)">°</text><text font-size="14" transform="translate(193.68,95.40) scale(1.082,1)">;</text><text class="g" font-size="14" transform="translate(206.23,95.40) scale(1.236,1)">θ</text><text font-size="12" transform="translate(213.69,99.40) scale(0.990,1)">23</text><text font-size="14" transform="translate(231.15,96.20) scale(1.090,1)">=</text><text font-size="14" transform="translate(243.65,95.40) scale(0.990,1)">40</text><text class="n" font-size="14" transform="translate(257.58,95.40) scale(1.161,1)">°</text><text font-size="14" transform="translate(264.86,95.40) scale(1.090,1)">;</text><text font-size="14" transform="translate(28.37,205.60) scale(0.990,1)">1</text><text class="g" font-size="14" transform="translate(40.18,205.60) scale(1.236,1)">σ</text><text class="g" font-size="14" transform="translate(53.04,205.60) scale(1.112,1)">Δ</text><text font-size="14" transform="translate(62.47,205.60) scale(0.990,1)">a</text><text font-size="12" transform="translate(70.17,209.70) scale(1.075,1)">e</text><text font-size="14" transform="translate(28.37,233.80) scale(0.990,1)">1</text><text class="g" font-size="14" transform="translate(40.18,233.80) scale(1.236,1)">σ</text><text class="g" font-size="14" transform="translate(53.04,233.80) scale(1.112,1)">Δ</text><text font-size="14" transform="translate(62.47,233.80) scale(0.990,1)">a</text><text class="g" font-size="10" transform="translate(69.54,237.30) scale(1.412,1)">μ</text><text font-size="14" transform="translate(152.78,280.00) scale(1.035,1)">VLL</text><text font-size="14" transform="translate(183.18,280.00) scale(1.034,1)">mass</text><text font-size="14" transform="translate(223.71,280.00) scale(1.054,1)">m</text><text class="g" font-size="12" transform="translate(237.00,284.70) scale(1.295,1)">χ</text><g transform="translate(0,213.4) rotate(-90)"><text font-size="14" transform="translate(-0.91,10.70) scale(1.020,1)">CP</text><text font-size="14" transform="translate(21.89,10.70) scale(1.074,1)">even</text><text font-size="14" transform="translate(58.73,10.70) scale(1.086,1)">scalar</text><text font-size="14" transform="translate(105.06,10.70) scale(1.090,1)">mass</text><text font-size="14" transform="translate(148.38,10.70) scale(1.083,1)">m</text><text font-size="12" transform="translate(161.91,14.80) scale(1.090,1)">h</text><text font-size="9.5" transform="translate(169.78,18.10) scale(1.002,1)">3</text></g>
</svg>
</body></html>
